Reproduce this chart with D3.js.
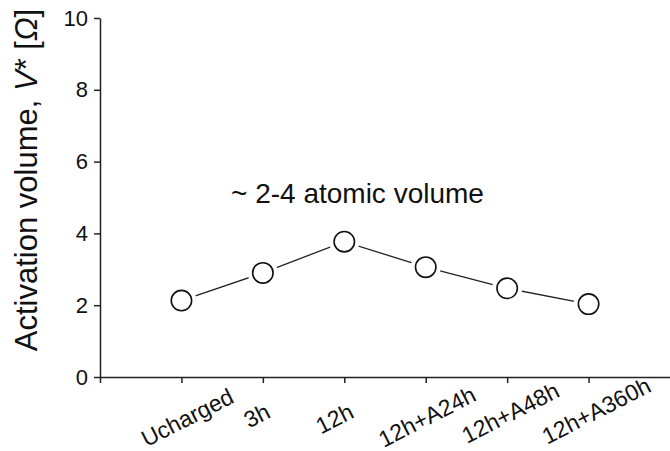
<!DOCTYPE html>
<html>
<head>
<meta charset="utf-8">
<script src="https://cdn.jsdelivr.net/npm/d3@7"></script>
<style>
  body { margin: 0; background: #fff; }
  text { font-family: "Liberation Sans", Arial, sans-serif; fill: #111; }
</style>
</head>
<body>
<script>
var categories = ["Ucharged", "3h", "12h", "12h+A24h", "12h+A48h", "12h+A360h"];
var volume = [2.13, 2.9, 3.77, 3.06, 2.47, 2.03];
var yTicks = [0, 2, 4, 6, 8, 10];
var note = "~ 2-4 atomic volume";

// hand placed label ends (dx from tick, baseline y), as in the source figure
var labelNudge = [[54, 402], [9, 417], [11, 417], [52, 400], [54, 396], [64, 391]];

var W = 670, H = 451;
var x = d3.scaleLinear().domain([0, 7]).range([100, 670]);
var y = d3.scaleLinear().domain([0, 10]).range([377, 18]);

var svg = d3.select('body').append('svg')
  .attr('width', W).attr('height', H);

// y axis
var yAxis = d3.axisLeft(y).tickValues(yTicks).tickSize(6).tickSizeOuter(0).tickPadding(6);
var gy = svg.append('g').attr('transform', 'translate(100,0)').call(yAxis);
gy.selectAll('text').style('font-size', '22px').style('fill', '#111');

// x axis
var xAxis = d3.axisBottom(x).tickValues(d3.range(0, 7)).tickSize(6).tickSizeOuter(0).tickFormat('');
var gx = svg.append('g').attr('transform', 'translate(0,377)').call(xAxis);

svg.selectAll('.domain, .tick line').attr('stroke', '#222').attr('stroke-width', 1.5);

// x labels
svg.append('g').selectAll('text')
  .data(categories)
  .enter().append('text')
    .attr('text-anchor', 'end')
    .style('font-size', '23px')
    .attr('transform', function (d, i) {
      return 'translate(' + (x(i + 1) + labelNudge[i][0]) + ',' + labelNudge[i][1] + ') rotate(-27)';
    })
    .text(function (d) { return d; });

// y title
var yt = svg.append('text')
  .attr('transform', 'translate(37,180) rotate(-90)')
  .attr('text-anchor', 'middle')
  .style('font-size', '31px');
yt.append('tspan').text('Activation volume, ');
yt.append('tspan').style('font-style', 'italic').text('V');
yt.append('tspan').text('* [');
yt.append('tspan').style('font-style', 'italic').text('\u03A9');
yt.append('tspan').text(']');

// annotation
svg.append('text')
  .attr('x', 231).attr('y', 203)
  .style('font-size', '28px')
  .text(note);

// line + markers
var line = d3.line()
  .x(function (d, i) { return x(i + 1); })
  .y(function (d) { return y(d); });

svg.append('path')
  .datum(volume)
  .attr('d', line)
  .attr('fill', 'none')
  .attr('stroke', '#222')
  .attr('stroke-width', 1.3);

svg.append('g').selectAll('circle.halo')
  .data(volume)
  .enter().append('circle')
    .attr('cx', function (d, i) { return x(i + 1); })
    .attr('cy', function (d) { return y(d); })
    .attr('r', 15)
    .attr('fill', '#fff');

svg.append('g').selectAll('circle.dot')
  .data(volume)
  .enter().append('circle')
    .attr('cx', function (d, i) { return x(i + 1); })
    .attr('cy', function (d) { return y(d); })
    .attr('r', 10.2)
    .attr('fill', '#fff')
    .attr('stroke', '#111')
    .attr('stroke-width', 1.6);
</script>
</body>
</html>
